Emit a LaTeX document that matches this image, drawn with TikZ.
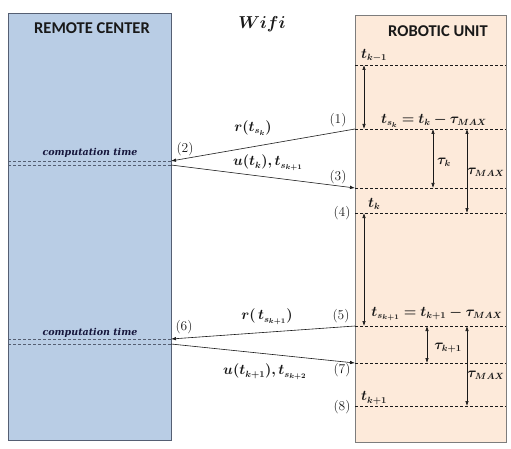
\documentclass[tikz,border=0pt]{standalone}
\usepackage{amsmath,bm}
\usepackage{fontspec}
\newfontfamily\headfont{Carlito}
\newfontfamily\ctfont{DejaVu Serif}
\usetikzlibrary{arrows.meta}
\definecolor{remotefill}{RGB}{185,205,229}
\definecolor{remotedraw}{RGB}{85,95,115}
\definecolor{robotfill}{RGB}{253,234,218}
\definecolor{robotdraw}{RGB}{125,125,125}
\definecolor{ink}{RGB}{25,25,25}
\tikzset{
  remotebox/.style={draw=remotedraw, fill=remotefill, line width=0.8pt, minimum width=163pt, minimum height=427pt, inner sep=0pt},
  robotbox/.style={draw=robotdraw, fill=robotfill, line width=0.8pt, minimum width=151pt, minimum height=427pt, inner sep=0pt},
  head/.style={font=\headfont\bfseries\fontsize{16.5}{18}\selectfont, text=ink},
  lbl/.style={font=\fontsize{13.5}{15}\selectfont, text=ink, inner sep=0pt},
  mlbl/.style={font=\fontsize{13.5}{15}\selectfont, text=ink, inner sep=0pt},
  wlbl/.style={font=\fontsize{16}{18}\selectfont, text=ink, inner sep=0pt},
  ctime/.style={font=\ctfont\bfseries\itshape\fontsize{9.5}{11}\selectfont, text=ink!85!blue, inner sep=0pt},
  dline/.style={densely dashed, draw=ink, line width=0.5pt},
  cline/.style={dash pattern=on 3pt off 2pt, draw=remotedraw, line width=0.7pt},
  msg/.style={-{Latex[length=5pt,width=3.5pt]}, draw=ink, line width=0.6pt},
  span/.style={{Latex[length=5pt,width=3.5pt]}-{Latex[length=5pt,width=3.5pt]}, draw=ink, line width=0.6pt}
}
\begin{document}
\begin{tikzpicture}[x=1pt,y=-1pt]
\useasboundingbox[fill=white] (0,0) rectangle (511,449);
\node[remotebox] (rc) at (89.5,226.5) {};
\node[robotbox] (ru) at (430.5,228.5) {};
\node[head] (rct) at (92,28) {REMOTE CENTER};
\node[head] (rut) at (438,31) {ROBOTIC UNIT};
\node[wlbl] (wifi) at (262,24) {$\bm{Wifi}$};

% computation time lines
\draw[cline] (8,161) -- (171,161);
\draw[cline] (8,165) -- (171,165);
\draw[cline] (8,339) -- (171,339);
\draw[cline] (8,344) -- (171,344);
\node[ctime] (ct1) at (90,153) {computation time};
\node[ctime] (ct2) at (90,333) {computation time};

% dashed time lines in robotic unit
\foreach \yy in {65,129,188,213,326,363,406}
  \draw[dline] (355,\yy) -- (506,\yy);

% coordinates
\coordinate (p1) at (355,129);
\coordinate (p2) at (171,161);
\coordinate (p2b) at (171,165);
\coordinate (p3) at (355,188);
\coordinate (p5) at (355,326);
\coordinate (p6) at (171,339);
\coordinate (p6b) at (171,344);
\coordinate (p7) at (355,363);

\draw[msg] (p1) -- (p2);
\draw[msg] (p2b) -- (p3);
\draw[msg] (p5) -- (p6);
\draw[msg] (p6b) -- (p7);

% vertical spans
\coordinate (a1) at (364,65);  \coordinate (a2) at (364,129);
\coordinate (b1) at (433,129); \coordinate (b2) at (433,188);
\coordinate (c1) at (467,129); \coordinate (c2) at (467,213);
\coordinate (d1) at (364,213); \coordinate (d2) at (364,326);
\coordinate (e1) at (427,326); \coordinate (e2) at (427,363);
\coordinate (f1) at (467,326); \coordinate (f2) at (467,406);
\draw[span] (a1) -- (a2);
\draw[span] (b1) -- (b2);
\draw[span] (c1) -- (c2);
\draw[span] (d1) -- (d2);
\draw[span] (e1) -- (e2);
\draw[span] (f1) -- (f2);

% labels robotic unit
\node[mlbl, anchor=west] (tkm1) at (361,56) {$\bm{t_{k-1}}$};
\node[mlbl] (tsk) at (434,121) {$\bm{t_{s_k} = t_k - \tau_{MAX}}$};
\node[mlbl] (tauk) at (444,162) {$\bm{\tau_k}$};
\node[mlbl] (tmax1) at (486,172) {$\bm{\tau_{MAX}}$};
\node[mlbl, anchor=west] (tk) at (368,204) {$\bm{t_k}$};
\node[mlbl] (tsk1) at (437,314) {$\bm{t_{s_{k+1}} = t_{k+1} - \tau_{MAX}}$};
\node[mlbl] (tauk1) at (448,348) {$\bm{\tau_{k+1}}$};
\node[mlbl] (tmax2) at (486,375) {$\bm{\tau_{MAX}}$};
\node[mlbl, anchor=west] (tk1) at (361,398) {$\bm{t_{k+1}}$};

% message labels
\node[mlbl] (r1) at (253,128) {$\bm{r(t_{s_k})}$};
\node[mlbl] (u1) at (268,163) {$\bm{u(t_k), t_{s_{k+1}}}$};
\node[mlbl] (r2) at (267,317) {$\bm{r(\,t_{s_{k+1}})}$};
\node[mlbl] (u2) at (265,372) {$\bm{u(t_{k+1}), t_{s_{k+2}}}$};

% step numbers
\node[lbl] (n1) at (338,120) {(1)};
\node[lbl] (n2) at (185,149) {(2)};
\node[lbl] (n3) at (338,177) {(3)};
\node[lbl] (n4) at (342,213) {(4)};
\node[lbl] (n5) at (341,316) {(5)};
\node[lbl] (n6) at (184,327) {(6)};
\node[lbl] (n7) at (342,370) {(7)};
\node[lbl] (n8) at (342,407) {(8)};
\end{tikzpicture}
\end{document}
